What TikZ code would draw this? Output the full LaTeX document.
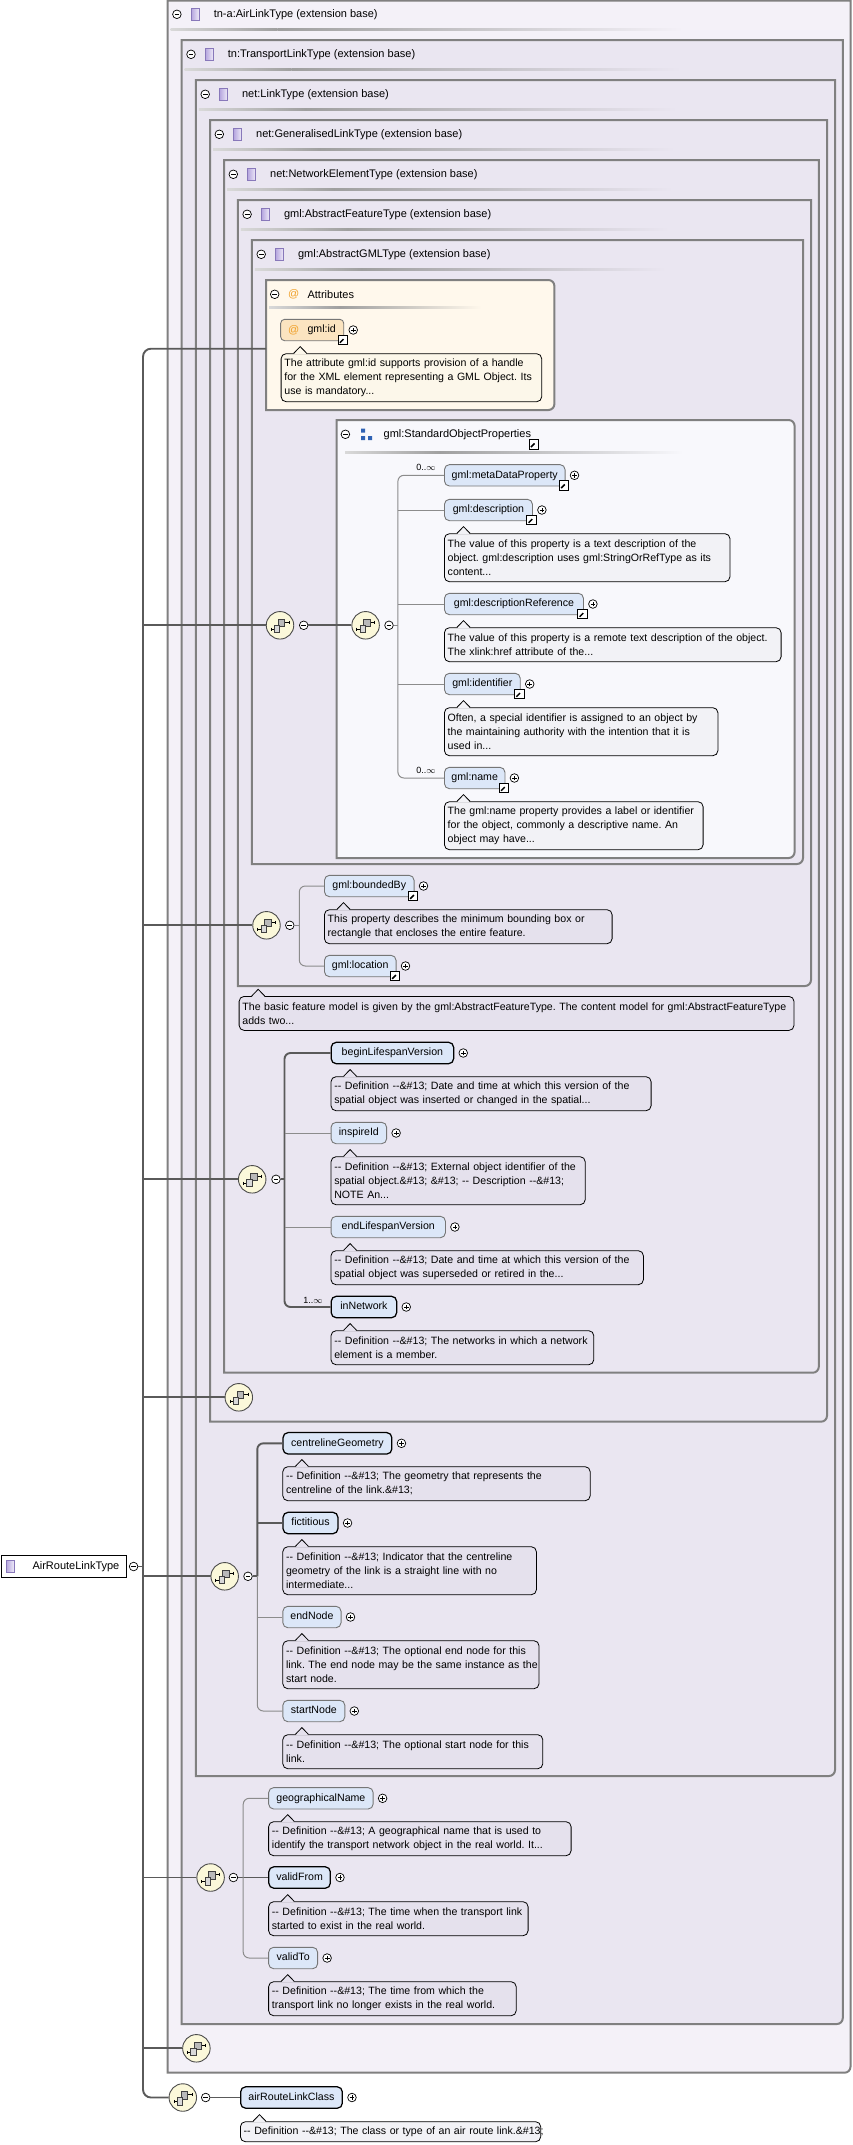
\documentclass[tikz,border=0pt]{standalone}
\usepackage{fontspec}
\setmainfont{Liberation Sans}
\usetikzlibrary{calc}
\definecolor{bfA}{HTML}{F4F1F8}
\definecolor{bfB}{HTML}{EAE6F1}
\definecolor{bbord}{HTML}{808080}
\definecolor{sopfill}{HTML}{F8F8FC}
\definecolor{attrfill}{HTML}{FFF8EC}
\definecolor{gidfill}{HTML}{FBE4C0}
\definecolor{elfill}{HTML}{DCE7F8}
\definecolor{elbord}{HTML}{767676}
\definecolor{dfL}{HTML}{E5E1ED}
\definecolor{dfW}{HTML}{F2F2F6}
\definecolor{dfA}{HTML}{FCF7EA}
\definecolor{seqfill}{HTML}{FBF8DA}
\definecolor{atorange}{HTML}{F0A028}
\definecolor{sopblue}{HTML}{2F62B4}
\definecolor{lnthin}{HTML}{8C8C8C}
\definecolor{lnthick}{HTML}{5A5A5A}
\definecolor{icA}{HTML}{B4A4DE}
\definecolor{icB}{HTML}{EEEAF8}
\definecolor{icD}{HTML}{8878BA}
\tikzset{
 ctlbase/.style={circle, draw=black, fill=white, line width=0.7, minimum size=8.6, inner sep=0},
 ctlminus/.style={ctlbase, path picture={\draw[line width=0.75] ([xshift=-2.4pt]path picture bounding box.center) -- ([xshift=2.4pt]path picture bounding box.center);}},
 ctlplus/.style={ctlbase, path picture={\draw[line width=0.75] ([xshift=-2.4pt]path picture bounding box.center) -- ([xshift=2.4pt]path picture bounding box.center) ([yshift=-2.4pt]path picture bounding box.center) -- ([yshift=2.4pt]path picture bounding box.center);}},
 typeicon/.style={rectangle, minimum width=8, minimum height=11.5, inner sep=0, draw=icD, line width=0.6, left color=icA, right color=icB},
 linkicon/.style={rectangle, draw=black, fill=white, line width=0.8, minimum size=9.5, inner sep=0, path picture={
   \draw[line width=1.5] ([shift={(-2.8pt,-2.8pt)}]path picture bounding box.center) -- ([shift={(1.2pt,1.2pt)}]path picture bounding box.center);
   \fill ([shift={(3.2pt,3.2pt)}]path picture bounding box.center) -- ([shift={(-1.2pt,3.2pt)}]path picture bounding box.center) -- ([shift={(3.2pt,-1.2pt)}]path picture bounding box.center) -- cycle;}},
 seqst/.style={circle, draw=black!70, fill=seqfill, line width=0.9, minimum size=27.5, inner sep=0},
 elem/.style={draw=elbord, fill=elfill, line width=0.9, rounded corners=5, minimum height=21.4, inner xsep=0, inner ysep=0, anchor=west, text height=7.6, text depth=2.2},
 elemb/.style={elem, draw=black, line width=1.25},
 desc/.style={draw=black, line width=0.8, rounded corners=5, anchor=north west, align=left, inner xsep=3.3, inner ysep=0},
 hdrtext/.style={anchor=west, inner sep=0, font=\fontsize{11}{14}\selectfont},
 atsign/.style={text=atorange, inner sep=0, font=\fontsize{11}{14}\selectfont},
 occ/.style={font=\fontsize{9}{10}\selectfont, inner sep=0},
 mainln/.style={draw=lnthick, line width=1.9},
 thickln/.style={draw=lnthick, line width=1.9},
 thinln/.style={draw=lnthin, line width=1},
}
\newcommand{\ctbox}[5]{%
 \filldraw[fill=#5, draw=bbord, line width=2] (#1,#2) -- (#3,#2) -- (#3,#4-6) arc[start angle=0,end angle=-90,radius=6pt] -- (#1,#4) -- cycle;}
\newcommand{\rtbox}[5]{%
 \filldraw[fill=#5, draw=bbord, line width=2] (#1,#2) -- (#3-6,#2) arc[start angle=90,end angle=0,radius=6pt] -- (#3,#4-6) arc[start angle=0,end angle=-90,radius=6pt] -- (#1,#4) -- cycle;}
\newcommand{\hdr}[6]{%
 \node[ctlminus] (#1m) at (#2+9.3,#3+14.3) {};
 \node[typeicon] (#1i) at (#2+27.5,#3+14.3) {};
 \node[hdrtext] (#1t) at (#2+46,#3+14.3) {#4};
 \shade[left color=gray!30, right color=gray!75] (#2+3,#3+28) rectangle (#2+110,#3+30);
 \shade[left color=gray!75, right color=#5] (#2+110,#3+28) rectangle (#6,#3+30);}
\newcommand{\descbox}[7]{%
 \pgfmathsetmacro\dtw{#4-6.6}%
 \pgfmathsetmacro\dmh{14*#5+6}%
 \node[desc, fill=#6, text width=\dtw pt, minimum height=\dmh pt] (#1) at (#2,#3) {#7};
 \fill[#6] ($(#1.north west)+(13,1)$) -- ($(#1.north west)+(19.5,-6.7)$) -- ($(#1.north west)+(26,1)$) -- cycle;
 \draw[line width=0.8, line join=miter] ($(#1.north west)+(13,0)$) -- ($(#1.north west)+(19.5,-6.7)$) -- ($(#1.north west)+(26,0)$);}
\newcommand{\pl}[1]{\node[ctlplus] (#1-p) at ($(#1.east)+(9,0)$) {};}
\newcommand{\lk}[1]{\node[linkicon] (#1-l) at ($(#1.south east)+(-1.5,-1.2)$) {};}
\newcommand{\seqpic}[1]{%
 \begin{scope}[shift={(#1.center)}]
  \draw[line width=0.6] (-9,4) -- (-5.7,4) (-9,2.3) -- (-9,5.7);
  \draw[line width=0.6] (4.7,-3) -- (9,-3) (9,-4.7) -- (9,-1.3);
  \filldraw[fill=gray!55, draw=black!75, line width=0.5] (-2,-6) rectangle (4.7,1.3);
  \filldraw[fill=gray!30, draw=black!75, line width=0.5] (-5.7,0) rectangle (-0.3,7.3);
 \end{scope}}
\newcommand{\mydef}{-{}- Definition -{}-\&\#13;}
\frenchspacing
\begin{document}
\begin{tikzpicture}[x=1pt,y=-1pt,font=\fontsize{10.6}{14}\selectfont]
\useasboundingbox (0,0) rectangle (852,2145);
% containers
\ctbox{167.6}{0.5}{850.5}{2072.7}{bfA}
\ctbox{181.7}{40}{842.8}{2024}{bfB}
\ctbox{195.9}{80}{835}{1776}{bfB}
\ctbox{210}{120}{827}{1421.7}{bfB}
\ctbox{224}{160}{818.8}{1372.7}{bfB}
\ctbox{237.8}{200}{811}{986}{bfB}
\ctbox{251.9}{240}{803}{864}{bfB}
\rtbox{266}{280}{554.4}{410}{attrfill}
\rtbox{336.5}{420}{794.6}{858}{sopfill}
% headers
\hdr{ha}{167.6}{0}{tn-a:AirLinkType (extension base)}{bfA}{683}
\hdr{hb}{181.7}{40}{tn:TransportLinkType (extension base)}{bfB}{681}
\hdr{hc}{195.9}{80}{net:LinkType (extension base)}{bfB}{677}
\hdr{hd}{210}{120}{net:GeneralisedLinkType (extension base)}{bfB}{675}
\hdr{he}{224}{160}{net:NetworkElementType (extension base)}{bfB}{673}
\hdr{hf}{237.8}{200}{gml:AbstractFeatureType (extension base)}{bfB}{669}
\hdr{hg}{251.9}{240}{gml:AbstractGMLType (extension base)}{bfB}{666}
% attributes
\node[ctlminus] (atm) at (274.7,294.3) {};
\node[atsign] (ati) at (293.8,294.3) {@};
\node[hdrtext] (att) at (307.4,294.3) {Attributes};
\shade[left color=gray!30, right color=gray!75] (269,306) rectangle (340,308);
\shade[left color=gray!75, right color=attrfill] (340,306) rectangle (481.5,308);
\node[draw=elbord, fill=gidfill, line width=0.9, rounded corners=4, minimum width=63.1, minimum height=21.4, inner sep=0, anchor=west] (gid) at (280.2,330) {};
\node[atsign] (gid-at) at (293.8,330) {@};
\node[anchor=west, inner sep=0] (gid-t) at (307.4,330) {gml:id};
\pl{gid}\lk{gid}
\descbox{gid-d}{280.7}{353.3}{260.6}{3}{dfA}{\mbox{The attribute gml:id supports provision of a handle}\\\mbox{for the XML element representing a GML Object. Its}\\\mbox{use is mandatory...}}
% standard object properties header
\node[ctlminus] (sopm) at (345.4,434.3) {};
\fill[sopblue] (361,428.5) rectangle (365,432.5) (361,436) rectangle (365,440) (368,436) rectangle (372,440);
\node[hdrtext] (sopt) at (383.5,434.3) {gml:StandardObjectProperties};
\node[linkicon] (sopl) at (533.7,444.3) {};
\shade[left color=gray!30, right color=gray!75] (345,451.7) rectangle (440,453.7);
\shade[left color=gray!75, right color=sopfill] (440,451.7) rectangle (683,453.7);
% sequence icons
\node[seqst] (s1) at (280,625.3) {};\seqpic{s1}
\node[ctlminus] (s1m) at (303.7,625.3) {};
\node[seqst] (s2) at (365.6,625.3) {};\seqpic{s2}
\node[ctlminus] (s2m) at (389,625.3) {};
\node[seqst] (s3) at (266.5,925.3) {};\seqpic{s3}
\node[ctlminus] (s3m) at (289.8,925.3) {};
\node[seqst] (s4) at (252.2,1179.3) {};\seqpic{s4}
\node[ctlminus] (s4m) at (276,1179.3) {};
\node[seqst] (s5) at (238.8,1397.3) {};\seqpic{s5}
\node[seqst] (s6) at (224.7,1576.3) {};\seqpic{s6}
\node[ctlminus] (s6m) at (248,1576.3) {};
\node[seqst] (s7) at (210.6,1877.5) {};\seqpic{s7}
\node[ctlminus] (s7m) at (233.4,1877.5) {};
\node[seqst] (s8) at (196.4,2048.3) {};\seqpic{s8}
\node[seqst] (s9) at (182.8,2097.5) {};\seqpic{s9}
\node[ctlminus] (s9m) at (205.7,2097.5) {};
% root
\node[draw=black, fill=white, line width=0.9, anchor=west, minimum height=21.6, inner xsep=0, inner ysep=0, text width=125.2, align=left, text height=7.6, text depth=2.2, font=\fontsize{11}{14}\selectfont] (root) at (0.5,1566.5) {\hspace*{31.6pt}AirRouteLinkType};
\node[typeicon] (rooti) at (10,1566.5) {};
\node[ctlminus] (rootm) at (133.6,1566.5) {};
% spine
\coordinate (attrL) at (266,348.7);
\draw[mainln, rounded corners=8] (attrL) -- (143,348.7) -- (143,2097.5) -- (s9.west);
\draw[mainln] (rootm.east) -- (143,1566.5);
\foreach \s/\yy in {s1/625.3, s3/925.3, s4/1179.3, s5/1397.3, s6/1576.3, s7/1877.5, s8/2048.3}
  \draw[mainln] (143,\yy) -- (\s.west);
\draw[mainln] (s1m.east) -- (s2.west);
% gml standard object properties
\node[elem, minimum width=120.6] (mdp) at (444,475.3) {gml:metaDataProperty};
\node[elem, minimum width=88] (gdsc) at (444,510) {gml:description};
\node[elem, minimum width=139] (gdref) at (444,604) {gml:descriptionReference};
\node[elem, minimum width=75.8] (gidf) at (444,684) {gml:identifier};
\node[elem, minimum width=60.5] (gnm) at (444,778) {gml:name};
\foreach \e in {mdp,gdsc,gdref,gidf,gnm} {\pl{\e}\lk{\e}}
\node[occ] (mdp-o) at (426,467.5) {0..$\infty$};
\node[occ] (gnm-o) at (426,770) {0..$\infty$};
\draw[thinln] (s2m.east) -- (397.9,625.3);
\draw[thinln, rounded corners=6] (mdp.west) -- (397.9,475.3) -- (397.9,778) -- (gnm.west);
\draw[thinln] (397.9,510) -- (gdsc.west);
\draw[thinln] (397.9,604) -- (gdref.west);
\draw[thinln] (397.9,684) -- (gidf.west);
\descbox{gdsc-d}{444}{533.3}{285.6}{3}{dfW}{\mbox{The value of this property is a text description of the}\\\mbox{object. gml:description uses gml:StringOrRefType as its}\\\mbox{content...}}
\descbox{gdref-d}{444}{627.3}{336.7}{2}{dfW}{\mbox{The value of this property is a remote text description of the object.}\\\mbox{The xlink:href attribute of the...}}
\descbox{gidf-d}{444}{707.3}{273.5}{3}{dfW}{\mbox{Often, a special identifier is assigned to an object by}\\\mbox{the maintaining authority with the intention that it is}\\\mbox{used in...}}
\descbox{gnm-d}{444}{801.3}{258.7}{3}{dfW}{\mbox{The gml:name property provides a label or identifier}\\\mbox{for the object, commonly a descriptive name. An}\\\mbox{object may have...}}
% abstract feature
\node[elem, minimum width=89.6] (bb) at (324,886) {gml:boundedBy};
\node[elem, minimum width=71.6] (loc) at (324,966) {gml:location};
\pl{bb}\lk{bb}\pl{loc}\lk{loc}
\draw[thinln] (s3m.east) -- (299.3,925.3);
\draw[thinln, rounded corners=6] (bb.west) -- (299.3,886) -- (299.3,966) -- (loc.west);
\descbox{bb-d}{324}{909.3}{287.7}{2}{dfL}{\mbox{This property describes the minimum bounding box or}\\\mbox{rectangle that encloses the entire feature.}}
\descbox{af-d}{238.7}{996}{554.9}{2}{dfL}{\mbox{The basic feature model is given by the gml:AbstractFeatureType. The content model for gml:AbstractFeatureType}\\\mbox{adds two...}}
% network element
\node[elemb, minimum width=122.4] (blv) at (330.6,1053) {beginLifespanVersion};
\node[elem, minimum width=55.6] (iid) at (330.6,1133) {inspireId};
\node[elem, minimum width=114.4] (elv) at (330.6,1227) {endLifespanVersion};
\node[elemb, minimum width=65.4] (inn) at (330.6,1307) {inNetwork};
\foreach \e in {blv,iid,elv,inn} {\pl{\e}}
\node[occ] (inn-o) at (313,1300) {1..$\infty$};
\draw[thickln] (s4m.east) -- (284.5,1179.3);
\draw[thickln, rounded corners=6] (blv.west) -- (284.5,1053) -- (284.5,1307) -- (inn.west);
\draw[thinln] (284.5,1133) -- (iid.west);
\draw[thinln] (284.5,1227) -- (elv.west);
\descbox{blv-d}{330.6}{1076.3}{320.1}{2}{dfL}{\mbox{\mydef{} Date and time at which this version of the}\\\mbox{spatial object was inserted or changed in the spatial...}}
\descbox{iid-d}{330.6}{1156.3}{254.2}{3}{dfL}{\mbox{\mydef{} External object identifier of the}\\\mbox{spatial object.\&\#13; \&\#13; -{}- Description -{}-\&\#13;}\\\mbox{NOTE An...}}
\descbox{elv-d}{330.6}{1250.3}{312.4}{2}{dfL}{\mbox{\mydef{} Date and time at which this version of the}\\\mbox{spatial object was superseded or retired in the...}}
\descbox{inn-d}{330.6}{1330.3}{262.8}{2}{dfL}{\mbox{\mydef{} The networks in which a network}\\\mbox{element is a member.}}
% link type
\node[elemb, minimum width=108.8] (clg) at (282.4,1443.3) {centrelineGeometry};
\node[elemb, minimum width=54.9] (fic) at (282.4,1523) {fictitious};
\node[elem, minimum width=58.2] (enn) at (282.4,1617) {endNode};
\node[elem, minimum width=62] (stn) at (282.4,1711) {startNode};
\foreach \e in {clg,fic,enn,stn} {\pl{\e}}
\draw[thickln] (s6m.east) -- (257.3,1576.3);
\draw[thickln, rounded corners=6] (clg.west) -- (257.3,1443.3) -- (257.3,1576.3);
\draw[thickln] (257.3,1523) -- (fic.west);
\draw[thinln, rounded corners=6] (257.3,1576.3) -- (257.3,1711) -- (stn.west);
\draw[thinln] (257.3,1617) -- (enn.west);
\descbox{clg-d}{282.4}{1466.3}{307.4}{2}{dfL}{\mbox{\mydef{} The geometry that represents the}\\\mbox{centreline of the link.\&\#13;}}
\descbox{fic-d}{282.4}{1546.3}{253.6}{3}{dfL}{\mbox{\mydef{} Indicator that the centreline}\\\mbox{geometry of the link is a straight line with no}\\\mbox{intermediate...}}
\descbox{enn-d}{282.4}{1640.3}{256.2}{3}{dfL}{\mbox{\mydef{} The optional end node for this}\\\mbox{link. The end node may be the same instance as the}\\\mbox{start node.}}
\descbox{stn-d}{282.4}{1734.3}{260}{2}{dfL}{\mbox{\mydef{} The optional start node for this}\\\mbox{link.}}
% transport link
\node[elem, minimum width=104.5] (gn) at (268.2,1798.3) {geographicalName};
\node[elemb, minimum width=61.5] (vf) at (268.2,1877.5) {validFrom};
\node[elem, minimum width=49] (vt) at (268.2,1958) {validTo};
\foreach \e in {gn,vf,vt} {\pl{\e}}
\draw[thickln] (s7m.east) -- (vf.west);
\draw[thinln, rounded corners=6] (gn.west) -- (243.2,1798.3) -- (243.2,1958) -- (vt.west);
\descbox{gn-d}{268.2}{1821.3}{302.5}{2}{dfL}{\mbox{\mydef{} A geographical name that is used to}\\\mbox{identify the transport network object in the real world. It...}}
\descbox{vf-d}{268.2}{1901.3}{259.5}{2}{dfL}{\mbox{\mydef{} The time when the transport link}\\\mbox{started to exist in the real world.}}
\descbox{vt-d}{268.2}{1981.3}{247.6}{2}{dfL}{\mbox{\mydef{} The time from which the}\\\mbox{transport link no longer exists in the real world.}}
% air route link class
\node[elemb, minimum width=101.7] (arc) at (240,2097.5) {airRouteLinkClass};
\pl{arc}
\draw[thickln] (s9m.east) -- (arc.west);
\descbox{arc-d}{240}{2121.3}{300.3}{1}{dfW}{\mbox{\mydef{} The class or type of an air route link.\&\#13;}}
\end{tikzpicture}
\end{document}
